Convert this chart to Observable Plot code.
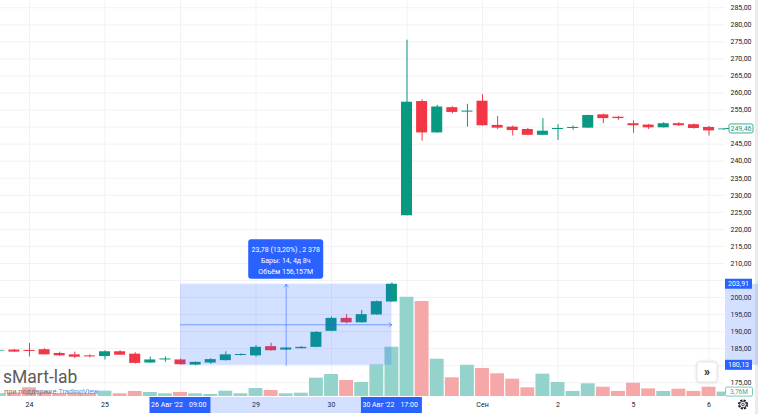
<!DOCTYPE html>
<html><head><meta charset="utf-8">
<script src="https://cdn.jsdelivr.net/npm/d3@7"></script>
<script src="https://cdn.jsdelivr.net/npm/@observablehq/plot@0.6"></script>
<style>
html,body{margin:0;padding:0;background:#fff;}
#chart{position:relative;width:758px;height:414px;overflow:hidden;font-family:Roboto,sans-serif;background:#fff;}
#chart > svg{position:absolute;left:0;top:0;}
</style></head><body><div id="chart"></div>
<script>
// ---- data (bar number 0 = 24 Aug 09:00; 5 bars per trading day) ----
const barIndex = [-2,-1,0,1,2,3,4,5,6,7,8,9,10,11,12,13,14,15,16,17,18,19,20,21,22,23,24,25,26,27,28,29,30,31,32,33,34,35,36,37,38,39,40,41,42,43,44,45,46];
const openP  = [184.3,184.6,184.5,184.7,183.6,183.2,182.9,182.7,184.1,183.4,180.8,181.7,181.7,180.2,180.8,181.5,183.0,182.9,185.6,184.6,185.0,185.4,190.1,193.9,192.6,194.9,198.7,224.0,257.5,248.3,255.7,254.4,257.6,250.5,250.0,249.3,247.6,249.3,249.6,249.7,253.6,252.9,251.0,250.6,249.8,251.0,250.7,249.9,249.2];
const highP  = [184.6,184.8,186.5,185.0,184.0,184.0,183.2,184.4,184.4,183.8,182.5,182.6,182.0,181.1,182.1,184.1,183.5,185.9,186.6,185.3,185.6,190.0,194.3,195.0,196.2,199.0,204.3,275.5,258.0,256.4,256.0,256.7,259.5,253.1,250.3,249.6,252.5,250.7,250.3,253.5,253.8,253.1,251.8,250.8,251.3,251.3,250.9,250.2,249.5];
const lowP   = [184.2,183.9,182.6,183.2,182.8,182.1,182.3,181.7,183.0,180.5,180.7,181.0,180.2,180.0,180.4,181.4,182.9,182.5,184.3,184.5,184.9,185.3,190.0,192.3,192.5,194.8,198.6,224.0,245.9,248.2,253.9,250.0,250.3,249.3,247.4,247.5,247.5,246.1,249.1,249.6,251.0,252.0,248.2,249.3,249.7,250.2,249.4,247.4,249.1];
const closeP = [184.5,184.0,184.2,183.2,182.9,182.5,182.6,184.1,183.1,180.7,181.7,182.0,180.3,181.0,181.8,183.2,183.3,185.4,184.4,185.2,185.4,189.8,193.9,192.6,195.0,198.8,203.91,257.3,248.3,255.9,254.3,254.7,250.4,249.7,249.0,247.6,248.8,249.6,249.9,253.4,252.5,252.5,250.4,249.8,251.0,250.4,249.6,248.9,249.46];
const volumeM = [2.3,3.0,7.4,3.8,2.6,3.0,2.6,4.5,2.3,4.3,3.4,2.3,3.4,2.3,1.7,4.5,2.3,6.8,5.1,2.3,2.8,15.6,18.7,13.6,11.9,26.9,41.9,84.4,80.8,31.7,15.9,26.6,23.8,19.3,14.7,7.4,19.0,11.9,4.3,10.8,7.9,4.3,11.3,6.5,4.3,6.2,4.3,7.9,3.76];

const dayTickIndex  = [0, 5, 10, 15, 20, 25, 30, 35, 40, 45];
const dayTickLabels = ["24", "25", "26", "29", "30", "31", "Сен", "2", "5", "6"];
const hiddenDayLabels = ["26", "31"];          // covered by crosshair date labels
const priceTicks = [175,180,185,190,195,200,205,210,215,220,225,230,235,240,245,250,255,260,265,270,275,280,285];
const hiddenPriceTicks = [180, 205, 250];      // covered by price labels

const measure = {from: 10, to: 24, low: 180.13, high: 203.91};
const measureLines = ["23,78 (13,20%) , 2 378", "Бары: 14, 4д 8ч", "Объём 156,157M"];
const fromLabel = ["26 Авг '22", "09:00"];
const toLabel = ["30 Авг '22", "17:00"];
const lastPrice = 249.46;
const lastVolumeLabel = "3,76M";

// ---- build rows ----
const bars = barIndex.map((i, k) => ({i, open: openP[k], high: highP[k], low: lowP[k], close: closeP[k], volume: volumeM[k]}));
const isUp = d => d.close >= d.open;
const UP = "#089981", DOWN = "#f23645", UPV = "#93d3cc", DOWNV = "#f6a7a7", GRID = "#f0f2f5", BLUE = "#2962ff";

const W = 758, H = 414;
const common = {
  width: W, height: H, marginLeft: 0, marginRight: 33,
  style: {background: "transparent", fontFamily: "Roboto, sans-serif", fontSize: "7px", color: "#131722", overflow: "visible"}
};
const xDomain = [-1.92, 46.09];
const priceDomain = [170.98, 287.14];
const fmtPrice = d => d.toFixed(2).replace(".", ",");

// layer 1: grid
const gridPlot = Plot.plot({
  ...common, marginTop: 0, marginBottom: 18,
  x: {domain: xDomain, axis: null},
  y: {domain: priceDomain, axis: null},
  marks: [
    Plot.ruleX(dayTickIndex, {stroke: GRID}),
    Plot.ruleY(priceTicks, {stroke: GRID})
  ]
});

// layer 2: volume
const labelByIndex = new Map(dayTickIndex.map((d, k) => [d, dayTickLabels[k]]));
const visibleDayTicks = dayTickIndex.filter((d, k) => !hiddenDayLabels.includes(dayTickLabels[k]));
const volPlot = Plot.plot({
  ...common, marginTop: 278.4, marginBottom: 18,
  x: {domain: xDomain},
  y: {domain: [0, 100], axis: null},
  marks: [
    Plot.rect(bars, {filter: isUp, x1: d => d.i - 0.46, x2: d => d.i + 0.46, y1: 0, y2: "volume", fill: UPV, clip: true}),
    Plot.rect(bars, {filter: d => !isUp(d), x1: d => d.i - 0.46, x2: d => d.i + 0.46, y1: 0, y2: "volume", fill: DOWNV, clip: true}),
    Plot.axisX({ticks: visibleDayTicks, tickFormat: d => labelByIndex.get(d), tickSize: 0, tickPadding: 6, label: null})
  ]
});

// layer 3: candles + measurement
const mid = (measure.low + measure.high) / 2;
const midX = (measure.from + measure.to) / 2;
const pricePlot = Plot.plot({
  ...common, marginTop: 0, marginBottom: 18,
  x: {domain: xDomain, axis: null},
  y: {domain: priceDomain},
  marks: [
    Plot.ruleX(bars, {filter: isUp, x: "i", y1: "low", y2: "high", stroke: UP, clip: true}),
    Plot.ruleX(bars, {filter: d => !isUp(d), x: "i", y1: "low", y2: "high", stroke: DOWN, clip: true}),
    Plot.rect(bars, {filter: isUp, x1: d => d.i - 0.365, x2: d => d.i + 0.365, y1: "open", y2: "close", fill: UP, clip: true}),
    Plot.rect(bars, {filter: d => !isUp(d), x1: d => d.i - 0.365, x2: d => d.i + 0.365, y1: "open", y2: "close", fill: DOWN, clip: true}),
    Plot.rect([measure], {x1: "from", x2: "to", y1: "low", y2: "high", fill: BLUE, fillOpacity: 0.2}),
    Plot.arrow([measure], {x1: "from", x2: "to", y1: () => mid, y2: () => mid, stroke: BLUE, strokeOpacity: 0.55, strokeWidth: 1, headLength: 5, headAngle: 70}),
    Plot.arrow([measure], {x1: () => midX, x2: () => midX, y1: "low", y2: "high", stroke: BLUE, strokeOpacity: 0.55, strokeWidth: 1, headLength: 5, headAngle: 70}),
    Plot.axisY({anchor: "right", ticks: priceTicks.filter(t => !hiddenPriceTicks.includes(t)), tickFormat: fmtPrice, tickSize: 0, tickPadding: 5, label: null})
  ]
});

const chart = document.getElementById("chart");
chart.append(gridPlot, volPlot, pricePlot);

// layer 4: chart chrome positioned through the plot scales
const xS = pricePlot.scale("x"), yS = pricePlot.scale("y"), vS = volPlot.scale("y");
const X = v => xS.apply(v), Y = v => yS.apply(v), V = v => vS.apply(v);
const svg = d3.select(chart).append("svg").attr("width", W).attr("height", H)
  .style("font-family", "Roboto, sans-serif");
const plotRight = W - 33;

// right edge strip
svg.append("rect").attr("x", 755).attr("y", 0).attr("width", 3).attr("height", H).attr("fill", "#ebebeb");

// measurement tooltip
const tx = X(midX), ty = Y(measure.high);
svg.append("rect").attr("x", tx - 37.5).attr("y", ty - 44.5).attr("width", 75).attr("height", 39.5).attr("rx", 3).attr("fill", BLUE);
measureLines.forEach((t, k) => svg.append("text").attr("x", tx).attr("y", ty - 34.5 + k * 11).attr("dy", "0.35em")
  .attr("text-anchor", "middle").attr("fill", "#fff").attr("font-size", 7).text(t));

// watermark
svg.append("text").attr("x", 3).attr("y", 383).attr("font-size", 17.5).attr("fill", "#5b5b5b").text("sMart-lab");
const sub = svg.append("text").attr("x", 4).attr("y", 393.5).attr("font-size", 7.3).attr("fill", "#777");
sub.append("tspan").text("при поддержке ");
sub.append("tspan").attr("fill", "#5d8be0").text("TradingView");

// x-axis crosshair band and date labels
const xa = X(measure.from), xb = X(measure.to);
svg.append("rect").attr("x", xa + 30.5).attr("y", 397).attr("width", xb - xa - 61).attr("height", 16).attr("fill", BLUE).attr("fill-opacity", 0.2);
[[xa, fromLabel], [xb, toLabel]].forEach(([x, lab]) => {
  svg.append("rect").attr("x", x - 30.5).attr("y", 397).attr("width", 61).attr("height", 16).attr("fill", BLUE);
  svg.append("text").attr("x", x + 3).attr("y", 405).attr("dy", "0.35em").attr("text-anchor", "end").attr("fill", "#fff").attr("font-size", 7).text(lab[0]);
  svg.append("text").attr("x", x + 9).attr("y", 405).attr("dy", "0.35em").attr("fill", "#fff").attr("font-size", 7).text(lab[1]);
});

// price-axis band and labels
svg.append("rect").attr("x", plotRight).attr("y", Y(measure.high)).attr("width", W - plotRight).attr("height", Y(measure.low) - Y(measure.high)).attr("fill", BLUE).attr("fill-opacity", 0.2);
[measure.high, measure.low].forEach(v => {
  svg.append("rect").attr("x", plotRight).attr("y", Y(v) - 5).attr("width", 27).attr("height", 10).attr("fill", BLUE);
  svg.append("text").attr("x", plotRight + 13.5).attr("y", Y(v)).attr("dy", "0.35em").attr("text-anchor", "middle").attr("fill", "#fff").attr("font-size", 7).text(fmtPrice(v));
});

// last price label
const yl = Y(lastPrice);
svg.append("line").attr("x1", plotRight).attr("x2", plotRight + 4).attr("y1", yl).attr("y2", yl).attr("stroke", UP);
svg.append("rect").attr("x", plotRight + 4).attr("y", yl - 4.5).attr("width", 24).attr("height", 9).attr("rx", 1.5).attr("fill", "#fff").attr("stroke", UP).attr("stroke-width", 0.8);
svg.append("text").attr("x", plotRight + 16).attr("y", yl).attr("dy", "0.35em").attr("text-anchor", "middle").attr("fill", UP).attr("font-size", 7).text(fmtPrice(lastPrice));

// last volume label
const yv = V(volumeM[volumeM.length - 1]);
svg.append("rect").attr("x", plotRight + 0.5).attr("y", yv - 4.5).attr("width", 27).attr("height", 9).attr("rx", 1.5).attr("fill", "#fff").attr("stroke", "#5cbcb0").attr("stroke-width", 0.8);
svg.append("text").attr("x", plotRight + 14).attr("y", yv).attr("dy", "0.35em").attr("text-anchor", "middle").attr("fill", "#3aa99b").attr("font-size", 6.5).text(lastVolumeLabel);

// scroll button
svg.append("rect").attr("x", 697).attr("y", 362).attr("width", 20).attr("height", 20).attr("rx", 3).attr("fill", "#fff")
  .attr("stroke", "#e6e8ee").style("filter", "drop-shadow(0 0 1.5px rgba(0,0,0,0.15))");
svg.append("text").attr("x", 707).attr("y", 372).attr("dy", "0.35em").attr("text-anchor", "middle").attr("font-size", 12).attr("font-weight", 700).attr("fill", "#131722").text("»");

// settings gear
const g = svg.append("g").attr("transform", "translate(743,404.5)");
g.append("circle").attr("r", 4.3).attr("fill", "none").attr("stroke", "#131722").attr("stroke-width", 1.6).attr("stroke-dasharray", "2.1 1.3");
g.append("circle").attr("r", 3.3).attr("fill", "none").attr("stroke", "#131722").attr("stroke-width", 0.8);
g.append("circle").attr("r", 1.3).attr("fill", "none").attr("stroke", "#131722").attr("stroke-width", 0.8);
</script></body></html>
